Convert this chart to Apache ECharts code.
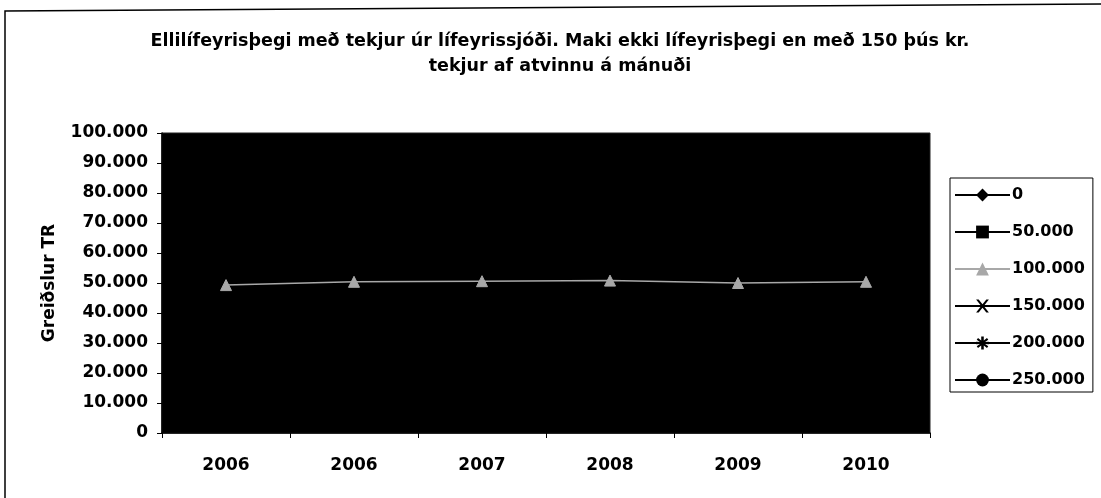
<!DOCTYPE html>
<html>
<head>
<meta charset="utf-8">
<script src="https://cdn.jsdelivr.net/npm/echarts@6/dist/echarts.min.js"></script>
<style>
  html, body { margin: 0; padding: 0; background: #fff; }
  #chart { width: 1101px; height: 498px; }
</style>
</head>
<body>
<div id="chart"></div>
<script>
// gögn
let years = ['2006', '2006', '2007', '2008', '2009', '2010'];
let seriesNames = ['0', '50.000', '100.000', '150.000', '200.000', '250.000'];
let s0 = [62000, 62500, 62800, 63000, 62500, 62800];
let s50 = [56000, 56500, 56800, 57000, 56500, 56800];
let s100 = [49300, 50400, 50600, 50800, 50000, 50400];
let s150 = [44000, 44500, 44800, 45000, 44500, 44800];
let s200 = [38000, 38500, 38800, 39000, 38500, 38800];
let s250 = [32000, 32500, 32800, 33000, 32500, 32800];
let yTicks = [0, 10000, 20000, 30000, 40000, 50000, 60000, 70000, 80000, 90000, 100000];

(function () {
    let myChart = echarts.init(document.getElementById('chart'));
    let fmt = function (v) {
        return String(v).replace(/\B(?=(\d{3})+(?!\d))/g, '.');
    };
    let xPath = 'path://M0,0 L2,0 L5,3.6 L8,0 L10,0 L6,5 L10,10 L8,10 L5,6.4 L2,10 L0,10 L4,5 Z';
    let starPath = 'path://M4,0 L6,0 L6,3 L8.5,1 L9.5,2.5 L7,4.2 L10,4 L10,6 L7,5.8 L9.5,7.5 L8.5,9 L6,7 L6,10 L4,10 L4,7 L1.5,9 L0.5,7.5 L3,5.8 L0,6 L0,4 L3,4.2 L0.5,2.5 L1.5,1 L4,3 Z';
    let lineSeries = function (name, data, color, symbol, size) {
        return {
            name: name,
            type: 'line',
            data: data,
            symbol: symbol,
            symbolSize: size,
            lineStyle: { color: color, width: 1.5 },
            itemStyle: { color: color, borderColor: color },
            z: 2
        };
    };
    let option = {
        animation: false,
        backgroundColor: '#fff',
        textStyle: { fontFamily: 'DejaVu Sans, Arial, sans-serif' },
        title: {
            text: 'Ellilífeyrisþegi með tekjur úr lífeyrissjóði. Maki ekki lífeyrisþegi en með 150 þús kr.\ntekjur af atvinnu á mánuði',
            left: 555,
            top: 24,
            textAlign: 'center',
            textStyle: { fontSize: 17.5, fontWeight: 'bold', color: '#000', lineHeight: 25 }
        },
        legend: {
            orient: 'vertical',
            left: 950,
            top: 178,
            padding: [9, 8, 4, 4],
            itemWidth: 55,
            itemHeight: 16,
            itemGap: 21,
            borderColor: '#000',
            borderWidth: 1,
            textStyle: { fontSize: 16, fontWeight: 'bold', color: '#000', padding: [0, 0, 0, -3] },
            data: seriesNames
        },
        grid: {
            left: 162,
            right: 171,
            top: 133,
            bottom: 65,
            show: true,
            backgroundColor: '#000',
            borderColor: '#222',
            borderWidth: 1
        },
        xAxis: {
            type: 'category',
            data: years,
            boundaryGap: true,
            axisLine: { lineStyle: { color: '#000', width: 1.5 } },
            axisTick: { show: true, length: 5, inside: false, lineStyle: { color: '#000' } },
            axisLabel: { fontSize: 17, fontWeight: 'bold', color: '#000', margin: 24 }
        },
        yAxis: {
            type: 'value',
            min: yTicks[0],
            max: yTicks[yTicks.length - 1],
            interval: yTicks[1] - yTicks[0],
            name: 'Greiðslur TR',
            nameLocation: 'middle',
            nameRotate: 90,
            nameGap: 104,
            nameTextStyle: { fontSize: 17, fontWeight: 'bold', color: '#000' },
            splitLine: { show: false },
            axisLine: { show: true, lineStyle: { color: '#000', width: 1.5 } },
            axisTick: { show: true, length: 5, lineStyle: { color: '#000' } },
            axisLabel: { fontSize: 17, fontWeight: 'bold', color: '#000', margin: 14, formatter: fmt }
        },
        series: [
            lineSeries(seriesNames[0], s0, '#000', 'diamond', 12),
            lineSeries(seriesNames[1], s50, '#000', 'rect', 10),
            lineSeries(seriesNames[2], s100, '#a8a8a8', 'triangle', 11),
            lineSeries(seriesNames[3], s150, '#000', xPath, 10),
            lineSeries(seriesNames[4], s200, '#000', starPath, 11),
            lineSeries(seriesNames[5], s250, '#000', 'circle', 11)
        ],
        graphic: [
            {
                type: 'polyline',
                shape: { points: [[5, 498], [5, 11], [1101, 4]] },
                style: { stroke: '#000', lineWidth: 1.5, fill: null },
                silent: true
            }
        ]
    };
    myChart.setOption(option);
    window.addEventListener('resize', function () {
        myChart.resize()
    })
})();
</script>
</body>
</html>
